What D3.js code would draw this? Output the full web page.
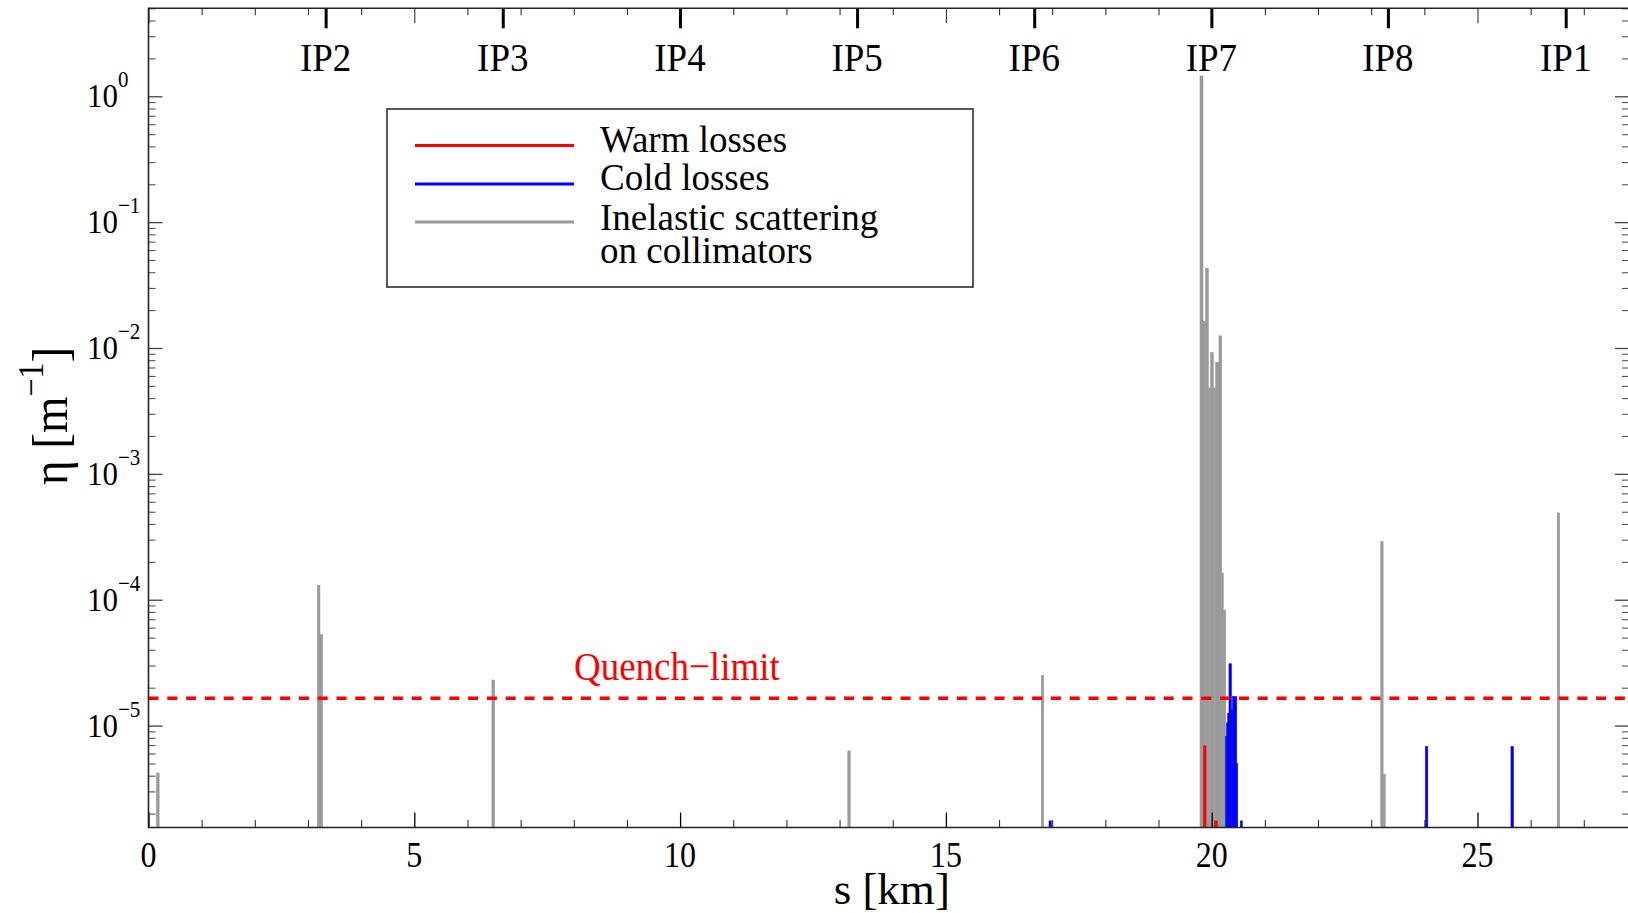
<!DOCTYPE html>
<html>
<head>
<meta charset="utf-8">
<script src="https://cdn.jsdelivr.net/npm/d3@7"></script>
<style>
  html, body { margin: 0; padding: 0; background: #fff; }
  svg { display: block; }
  text { font-family: "Liberation Serif", "Times New Roman", serif; }
</style>
</head>
<body>
<svg id="chart" width="1628" height="913"></svg>
<script>
// ---------------- DATA ----------------
// loss bins: [s_start (km), s_end (km), eta (1/m)]
const inelasticBins = [
  [0.15, 0.20, 4.2e-6],
  [3.175, 3.225, 1.3e-4],
  [3.225, 3.275, 5.3e-5],
  [6.46, 6.51, 2.3e-5],
  [13.155, 13.20, 6.3e-6],
  [16.795, 16.84, 2.5e-5],
  [19.78, 19.836, 1.45],
  [19.836, 19.886, 0.0162],
  [19.886, 19.937, 0.043],
  [19.937, 19.95, 0.0048],
  [19.962, 19.98, 0.0048],
  [19.98, 20.03, 0.0092],
  [20.03, 20.043, 0.0048],
  [20.056, 20.075, 0.0048],
  [20.075, 20.137, 0.0077],
  [20.137, 20.188, 0.0125],
  [20.188, 20.219, 1.63e-4],
  [20.219, 20.263, 8.3e-5],
  [23.18, 23.225, 2.9e-4],
  [23.225, 23.265, 4.1e-6],
  [26.50, 26.545, 4.9e-4]
];
const warmBins = [
  [19.845, 19.893, 6.9e-6],
  [20.056, 20.105, 1.75e-6]
];
const coldBins = [
  [16.94, 16.985, 1.75e-6],
  [20.263, 20.28, 8.2e-6],
  [20.28, 20.30, 1.05e-5],
  [20.30, 20.325, 1.25e-5],
  [20.325, 20.369, 3.1e-5],
  [20.369, 20.395, 1.33e-5],
  [20.395, 20.47, 1.7e-5],
  [20.47, 20.489, 5e-6],
  [20.54, 20.575, 1.75e-6],
  [24.02, 24.065, 6.8e-6],
  [25.63, 25.675, 6.8e-6]
];
const quenchLimit = 1.65e-5;

const ipLabels = ["IP2", "IP3", "IP4", "IP5", "IP6", "IP7", "IP8", "IP1"];
const ipPositions = [3.332, 6.664, 9.997, 13.329, 16.661, 19.994, 23.315, 26.659];
const xTickValues = [0, 5, 10, 15, 20, 25];
const yTickExponents = [-5, -4, -3, -2, -1, 0];
const legendLabels = [["Warm losses"], ["Cold losses"], ["Inelastic scattering", "on collimators"]];

// ---------------- LAYOUT ----------------
const svg = d3.select("#chart");
const L = 148.5, R = 1629, T = 8.3, B = 827.5;
const x = d3.scaleLinear().domain([0, 27.85]).range([L, R]);
const y = d3.scaleLog().domain([1.55e-6, 5]).range([B, T]);
const STRETCH = 1.1;
const GRAY = "#9a9a9a", RED = "#ff0000", BLUE = "#0000ff";

function label(g, px, py, str, size, anchor, fill, stretch) {
  return g.append("text")
    .attr("transform", `translate(${px},${py}) scale(1,${stretch || STRETCH})`)
    .attr("text-anchor", anchor || "start")
    .attr("font-size", size)
    .attr("fill", fill || "#000")
    .text(str);
}

// ---------------- BARS ----------------
function drawBins(data, color) {
  svg.append("g").selectAll("rect").data(data).enter().append("rect")
    .attr("x", d => x(d[0]))
    .attr("width", d => Math.max(1, x(d[1]) - x(d[0])))
    .attr("y", d => y(d[2]))
    .attr("height", d => B - y(d[2]))
    .attr("fill", color)
    .attr("stroke", color).attr("stroke-width", 0.6);
}
drawBins(inelasticBins, GRAY);
drawBins(warmBins, RED);
drawBins(coldBins, BLUE);

// quench limit
svg.append("line")
  .attr("x1", L).attr("x2", R)
  .attr("y1", y(quenchLimit)).attr("y2", y(quenchLimit))
  .attr("stroke", RED).attr("stroke-width", 3.5)
  .attr("stroke-dasharray", "10,8.8");
label(svg, 574, 680, "Quench\u2212limit", 37, "start", RED);

// ---------------- AXES ----------------
const minorX = d3.range(1, 28).filter(v => v % 5 !== 0);
const minorY = [];
for (let e = -6; e <= 0; e++) for (let k = 2; k <= 9; k++) {
  const v = k * Math.pow(10, e);
  if (v >= y.domain()[0] && v <= y.domain()[1]) minorY.push(v);
}
const majorY = yTickExponents.map(e => Math.pow(10, e));

function styleAxis(g, w, col) {
  g.select(".domain").remove();
  g.selectAll(".tick line").attr("stroke", col || "#000").attr("stroke-width", w);
  g.selectAll(".tick text").remove();
}
// bottom
styleAxis(svg.append("g").attr("transform", `translate(0,${B})`)
  .call(d3.axisBottom(x).tickValues(xTickValues).tickSize(-15).tickFormat("")), 1.3);
styleAxis(svg.append("g").attr("transform", `translate(0,${B})`)
  .call(d3.axisBottom(x).tickValues(minorX).tickSize(-7.5).tickFormat("")), 1.1, "#333");
// top
styleAxis(svg.append("g").attr("transform", `translate(0,${T})`)
  .call(d3.axisTop(x).tickValues(xTickValues).tickSize(-15).tickFormat("")), 1.1, "#333");
styleAxis(svg.append("g").attr("transform", `translate(0,${T})`)
  .call(d3.axisTop(x).tickValues(minorX).tickSize(-7).tickFormat("")), 1.1, "#333");
styleAxis(svg.append("g").attr("transform", `translate(0,${T})`)
  .call(d3.axisTop(x).tickValues(ipPositions).tickSize(-20).tickFormat("")), 3);
// left
styleAxis(svg.append("g").attr("transform", `translate(${L},0)`)
  .call(d3.axisLeft(y).tickValues(majorY).tickSize(-14).tickFormat("")), 1.3, "#444");
styleAxis(svg.append("g").attr("transform", `translate(${L},0)`)
  .call(d3.axisLeft(y).tickValues(minorY).tickSize(-7).tickFormat("")), 1.1, "#555");
// right
styleAxis(svg.append("g").attr("transform", `translate(${R},0)`)
  .call(d3.axisRight(y).tickValues(majorY).tickSize(-14).tickFormat("")), 1.3, "#444");
styleAxis(svg.append("g").attr("transform", `translate(${R},0)`)
  .call(d3.axisRight(y).tickValues(minorY).tickSize(-7).tickFormat("")), 1.1, "#555");

// frame
svg.append("path")
  .attr("d", `M${R},${T}H${L}V${B}H${R}`)
  .attr("fill", "none").attr("stroke", "#222").attr("stroke-width", 1.6);

// tick labels
xTickValues.forEach(v => label(svg, x(v), 867, String(v), 32, "middle"));
ipLabels.forEach((s, i) => label(svg, x(ipPositions[i]), 70.5, s, 37, "middle"));
yTickExponents.forEach(e => {
  const t = svg.append("text")
    .attr("transform", `translate(87,${y(Math.pow(10, e)) + 11}) scale(1,${STRETCH})`)
    .attr("text-anchor", "start").attr("font-size", 31);
  t.append("tspan").text("10");
  t.append("tspan").attr("dy", -18).attr("font-size", 21)
    .text(e === 0 ? "0" : "\u2212" + Math.abs(e));
});

// axis titles
label(svg, (L + R) / 2 + 3, 904, "s [km]", 45, "middle", "#000", 1.0);
const yt = svg.append("text")
  .attr("transform", `translate(67,${(T + B) / 2 - 2}) rotate(-90) scale(1,${STRETCH})`)
  .attr("text-anchor", "middle").attr("font-size", 47);
yt.append("tspan").text("\u03b7 [m");
yt.append("tspan").attr("dy", -22).attr("font-size", 32).text("\u22121");
yt.append("tspan").attr("dy", 22).text("]");

// ---------------- LEGEND ----------------
const lg = svg.append("g");
lg.append("rect").attr("x", 387).attr("y", 109).attr("width", 586).attr("height", 178)
  .attr("fill", "#fff").attr("stroke", "#222").attr("stroke-width", 1.5);
const legendColors = [RED, BLUE, GRAY];
const legendLineY = [145.5, 184, 222];
const legendTextY = [[151.5], [189.5], [229.5, 262.5]];
legendLabels.forEach((lines, i) => {
  lg.append("line").attr("x1", 415).attr("x2", 574)
    .attr("y1", legendLineY[i]).attr("y2", legendLineY[i])
    .attr("stroke", legendColors[i]).attr("stroke-width", 3);
  lines.forEach((s, j) => label(lg, 600, legendTextY[i][j], s, 37, "start", "#000", 1.05));
});
</script>
</body>
</html>
